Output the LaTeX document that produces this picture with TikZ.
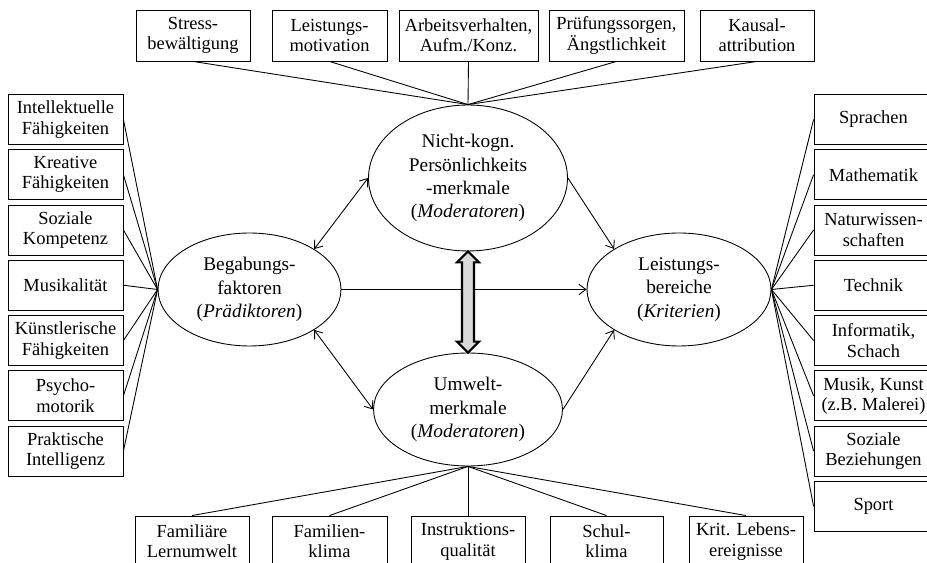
\documentclass[tikz,border=0pt]{standalone}
\usepackage{fontspec}
\setmainfont{Liberation Serif}
\usepackage{tikz}
\usetikzlibrary{shapes.geometric,arrows.meta,calc}

\begin{document}
\begin{tikzpicture}[x=0.02cm, y=-0.02cm,
    merkmal/.style={draw, line width=0.5pt, align=center, inner sep=1pt,
      minimum width=2.3cm, minimum height=1cm,
      font=\fontsize{10.5}{11.5}\selectfont},
    faktor/.style={draw, ellipse, line width=0.5pt, align=center, inner sep=0pt,
      font=\fontsize{11}{13.2}\selectfont},
    verbindung/.style={line width=0.5pt},
    pfeil/.style={line width=0.5pt, -{Straight Barb[length=4pt,width=6pt]}},
    doppelpfeil/.style={line width=0.5pt,
      {Straight Barb[length=4pt,width=6pt]}-{Straight Barb[length=4pt,width=6pt]}},
    wechsel/.style={draw, line width=1.2pt, line join=miter, fill=black!15}]
    \clip (0,0) rectangle (927,563);

    \node[faktor, minimum width=3.98cm, minimum height=2.92cm] (pk) at (468,178)
      {Nicht-kogn.\\Persönlichkeits\\-merkmale\\(\textit{Moderatoren})};
    \node[faktor, minimum width=3.66cm, minimum height=2.26cm] (beg) at (249.5,289.5)
      {Begabungs-\\faktoren\\(\textit{Prädiktoren})};
    \node[faktor, minimum width=3.68cm, minimum height=2.26cm] (lb) at (679,289.5)
      {Leistungs-\\bereiche\\(\textit{Kriterien})};
    \node[faktor, minimum width=3.78cm, minimum height=2.26cm] (um) at (468,409.5)
      {Umwelt-\\merkmale\\(\textit{Moderatoren})};

    \node[merkmal, minimum width=2.28cm, minimum height=1.02cm] (t1) at (193,35.5) {Stress-\\bewältigung};
    \node[merkmal, minimum height=1.02cm] (t2) at (329.5,35.5) {Leistungs-\\motivation};
    \node[merkmal, minimum width=2.78cm, minimum height=1.02cm] (t3) at (468.5,35.5) {Arbeitsverhalten,\\Aufm./Konz.};
    \node[merkmal, minimum width=2.7cm, minimum height=1.02cm] (t4) at (616.5,35.5) {Prüfungssorgen,\\Ängstlichkeit};
    \node[merkmal, minimum width=2.28cm, minimum height=1.02cm] (t5) at (757,35.5) {Kausal-\\attribution};

    \node[merkmal] (l1) at (65.5,119.5) {Intellektuelle\\Fähigkeiten};
    \node[merkmal] (l2) at (65.5,174.75) {Kreative\\Fähigkeiten};
    \node[merkmal] (l3) at (65.5,230) {Soziale\\Kompetenz};
    \node[merkmal] (l4) at (65.5,285.25) {Musikalität};
    \node[merkmal] (l5) at (65.5,340.5) {Künstlerische\\Fähigkeiten};
    \node[merkmal] (l6) at (65.5,395.75) {Psycho-\\motorik};
    \node[merkmal] (l7) at (65.5,451) {Praktische\\Intelligenz};

    \node[merkmal, minimum width=2.38cm] (r1) at (873.5,119.5) {Sprachen};
    \node[merkmal, minimum width=2.38cm] (r2) at (873.5,174.75) {Mathematik};
    \node[merkmal, minimum width=2.38cm] (r3) at (873.5,230) {Naturwissen-\\schaften};
    \node[merkmal, minimum width=2.38cm] (r4) at (873.5,285.25) {Technik};
    \node[merkmal, minimum width=2.38cm] (r5) at (873.5,340.5) {Informatik,\\Schach};
    \node[merkmal, minimum width=2.38cm] (r6) at (873.5,395.75) {Musik, Kunst\\(z.B. Malerei)};
    \node[merkmal, minimum width=2.38cm] (r7) at (873.5,451) {Soziale\\Beziehungen};
    \node[merkmal, minimum width=2.38cm] (r8) at (873.5,506.25) {Sport};

    \node[merkmal, minimum width=2.28cm, minimum height=1.02cm] (u1) at (192,541.5) {Familiäre\\Lernumwelt};
    \node[merkmal, minimum height=1.02cm] (u2) at (329.5,541.5) {Familien-\\klima};
    \node[merkmal, minimum width=2.28cm, minimum height=1.02cm] (u3) at (468,541.5) {Instruktions-\\qualität};
    \node[merkmal, minimum width=2.26cm, minimum height=1.02cm] (u4) at (606.5,541.5) {Schul-\\klima};
    \node[merkmal, minimum width=2.28cm, minimum height=1.02cm] (u5) at (746,541.5) {Krit. Lebens-\\ereignisse};

    \draw[verbindung] (t1.south) -- (pk.north);
    \draw[verbindung] (t2.south) -- (pk.north);
    \draw[verbindung] (t3.south) -- (pk.north);
    \draw[verbindung] (t4.south) -- (pk.north);
    \draw[verbindung] (t5.south) -- (pk.north);

    \draw[verbindung] (l1.east) -- (beg.west);
    \draw[verbindung] (l2.east) -- (beg.west);
    \draw[verbindung] (l3.east) -- (beg.west);
    \draw[verbindung] (l4.east) -- (beg.west);
    \draw[verbindung] (l5.east) -- (beg.west);
    \draw[verbindung] (l6.east) -- (beg.west);
    \draw[verbindung] (l7.east) -- (beg.west);

    \draw[verbindung] (r1.west) -- (lb.east);
    \draw[verbindung] (r2.west) -- (lb.east);
    \draw[verbindung] (r3.west) -- (lb.east);
    \draw[verbindung] (r4.west) -- (lb.east);
    \draw[verbindung] (r5.west) -- (lb.east);
    \draw[verbindung] (r6.west) -- (lb.east);
    \draw[verbindung] (r7.west) -- (lb.east);
    \draw[verbindung] (r8.west) -- (lb.east);

    \draw[verbindung] (u1.north) -- (um.south);
    \draw[verbindung] (u2.north) -- (um.south);
    \draw[verbindung] (u3.north) -- (um.south);
    \draw[verbindung] (u4.north) -- (um.south);
    \draw[verbindung] (u5.north) -- (um.south);

    \draw[doppelpfeil] (beg.32) -- (pk.west);
    \draw[doppelpfeil] (beg.-32) -- (um.west);
    \draw[pfeil] (pk.east) -- (lb.148);
    \draw[pfeil] (um.east) -- (lb.212);
    \draw[pfeil] (beg.east) -- (lb.west);

    \draw[wechsel] (pk.south) -- ++(11,11) -- ++(-5,0) -- ($(um.north)+(6,-11)$)
      -- ++(5,0) -- (um.north) -- ++(-11,-11) -- ++(5,0)
      -- ($(pk.south)+(-6,11)$) -- ++(-5,0) -- cycle;
\end{tikzpicture}
\end{document}
